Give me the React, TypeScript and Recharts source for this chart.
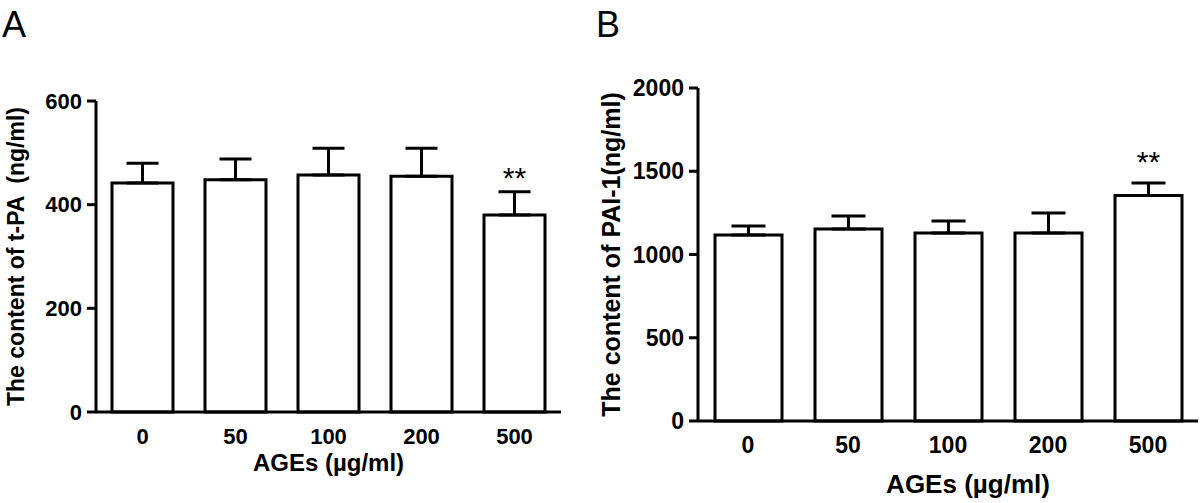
import { BarChart, Bar, XAxis, YAxis, ErrorBar, LabelList, Label } from 'recharts'

const doses = ['0', '50', '100', '200', '500']
const tpaMean = [442, 448, 457, 455, 380]
const tpaSem = [38, 40, 52, 54, 45]
const pai1Mean = [1117, 1153, 1129, 1129, 1354]
const pai1Sem = [54, 78, 72, 120, 75]
const marks = ['', '', '', '', '**']

const tpaTicks = [0, 200, 400, 600]
const pai1Ticks = [0, 500, 1000, 1500, 2000]

const tpaRows = doses.map((d, i) => ({ dose: d, value: tpaMean[i], err: [0, tpaSem[i]], sig: marks[i] }))
const pai1Rows = doses.map((d, i) => ({ dose: d, value: pai1Mean[i], err: [0, pai1Sem[i]], sig: marks[i] }))

const font = "'Liberation Sans', Arial, Helvetica, sans-serif"

const yTitle = (text: string, cx: number, size: number) => (props: any) => {
  const vb = props.viewBox
  const cy = vb.y + vb.height / 2
  return (
    <text x={cx} y={cy} transform={`rotate(-90 ${cx} ${cy})`} textAnchor="middle" dominantBaseline="central"
      fontFamily={font} fontWeight={700} fontSize={size} fill="#000" style={{ whiteSpace: 'pre' }}>
      {text}
    </text>
  )
}

const xTitle = (text: string, shift: number, baseline: number, size: number) => (props: any) => {
  const vb = props.viewBox
  return (
    <text x={vb.x + vb.width / 2 + shift} y={baseline} textAnchor="middle"
      fontFamily={font} fontWeight={700} fontSize={size} fill="#000">
      {text}
    </text>
  )
}

const stars = (lift: number) => (props: any) => {
  const { x, y, width, value } = props
  if (!value) return null
  return (
    <text x={x + width / 2} y={y - lift} textAnchor="middle" dominantBaseline="central"
      fontFamily={font} fontSize={30} fill="#000">
      {value}
    </text>
  )
}

function Panel(props: {
  rows: any[]; ticks: number[]; max: number; yLabel: string; top: number; bottom: number; width: number;
  yw: number; right: number; barSize: number; cap: number; tickFont: number; yLabelX: number;
  yLabelSize: number; xShift: number; xBase: number; xSize: number; lift: number
}) {
  const p = props
  return (
    <BarChart width={p.width} height={503} data={p.rows}
      margin={{ top: p.top, right: p.right, bottom: p.bottom - 60, left: 0 }} barSize={p.barSize}>
      <XAxis dataKey="dose" height={60} tickLine={false} axisLine={{ stroke: '#000', strokeWidth: 3 }}
        tick={{ fill: '#000', fontSize: p.tickFont, fontWeight: 700, fontFamily: font }} tickMargin={10}>
        <Label content={xTitle('AGEs (µg/ml)', p.xShift, p.xBase, p.xSize)} />
      </XAxis>
      <YAxis width={p.yw} domain={[0, p.max]} ticks={p.ticks} interval={0} tickSize={9} tickMargin={5}
        axisLine={{ stroke: '#000', strokeWidth: 3 }} tickLine={{ stroke: '#000', strokeWidth: 3 }}
        tick={{ fill: '#000', fontSize: p.tickFont, fontWeight: 700, fontFamily: font }}>
        <Label content={yTitle(p.yLabel, p.yLabelX, p.yLabelSize)} />
      </YAxis>
      <Bar dataKey="value" fill="#fff" stroke="#000" strokeWidth={3} isAnimationActive={false}>
        <ErrorBar dataKey="err" direction="y" width={p.cap} stroke="#000" strokeWidth={3} isAnimationActive={false} />
        <LabelList dataKey="sig" content={stars(p.lift)} />
      </Bar>
    </BarChart>
  )
}

export default function App() {
  return (
    <div style={{ position: 'absolute', left: 0, top: 0, width: 1200, height: 503, background: '#fff', fontFamily: font }}>
      <div style={{ position: 'absolute', left: 0, top: 0 }}>
        <Panel rows={tpaRows} ticks={tpaTicks} max={600} yLabel="The content of t-PA  (ng/ml)" top={101} bottom={91}
          width={580} yw={96} right={19} barSize={61} cap={16} tickFont={22} yLabelX={16} yLabelSize={23}
          xShift={0} xBase={471} xSize={24} lift={38} />
      </div>
      <div style={{ position: 'absolute', left: 580, top: 0 }}>
        <Panel rows={pai1Rows} ticks={pai1Ticks} max={2000} yLabel="The content of PAI-1(ng/ml)" top={88} bottom={82}
          width={620} yw={118} right={2} barSize={67} cap={17} tickFont={23} yLabelX={31} yLabelSize={25}
          xShift={20} xBase={493} xSize={26} lift={34} />
      </div>
      <div style={{ position: 'absolute', left: 2, top: 7, fontSize: 36, lineHeight: '36px' }}>A</div>
      <div style={{ position: 'absolute', left: 596, top: 7, fontSize: 36, lineHeight: '36px' }}>B</div>
    </div>
  )
}
